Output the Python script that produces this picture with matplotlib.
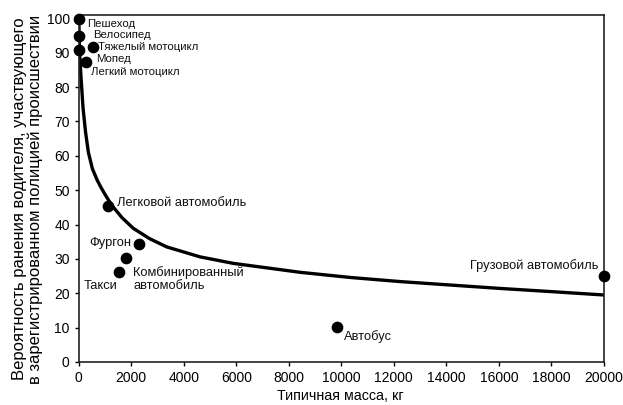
import matplotlib
matplotlib.use("Agg")
import matplotlib.pyplot as plt

plt.rcParams['font.family'] = ['Liberation Sans', 'DejaVu Sans']

# Data points (typical mass in kg, probability of driver injury %)
names = ["Пешеход", "Велосипед", "Тяжелый мотоцикл", "Мопед", "Легкий мотоцикл",
         "Легковой автомобиль", "Фургон", "Комбинированный\nавтомобиль", "Такси",
         "Автобус", "Грузовой автомобиль"]
mass = [20, 20, 540, 20, 280, 1120, 2300, 1810, 1540, 9850, 20000]
prob = [99.8, 94.9, 91.6, 90.8, 87.3, 45.4, 34.3, 30.3, 26.2, 10.2, 25.0]

# Trend curve
curve_x = [10, 30, 60, 100, 165, 260, 370, 520, 700, 850, 1000, 1250, 1650, 2080, 2700,
           3350, 4620, 5890, 7165, 8435, 10340, 12245, 14150, 16060, 17960, 20000]
curve_y = [98, 91, 86.5, 81.5, 74, 67, 61, 56.3, 53.0, 50.8, 48.8, 45.7, 42.0, 38.9, 35.9,
           33.5, 30.6, 28.7, 27.4, 26.1, 24.6, 23.4, 22.4, 21.4, 20.5, 19.5]

xticks = [0, 2000, 4000, 6000, 8000, 10000, 12000, 14000, 16000, 18000, 20000]
yticks = [0, 10, 20, 30, 40, 50, 60, 70, 80, 90, 100]

# label offsets (pixels) and alignment
offsets = [(8, -4.5, 'left'), (14, 1, 'left'), (5, 0.5, 'left'), (17, -8.5, 'left'),
           (5, -9.5, 'left'), (9, 3, 'left'), (-8, 1, 'right'), (7, -21, 'left'),
           (-35, -14, 'left'), (7, -10, 'left'), (-6, 11, 'right')]
sizes = [8.2, 8.2, 8.2, 8.2, 8.2, 9.3, 9.3, 9.3, 9.3, 9.3, 9.3]

fig = plt.figure(figsize=(6.23, 4.05), dpi=100)
ax = fig.add_axes([0.1263, 0.1062, 0.8432, 0.8568])

ax.plot(curve_x, curve_y, color='black', lw=2.4, solid_capstyle='butt',
        solid_joinstyle='round', zorder=2)
ax.scatter(mass, prob, s=55, color='black', zorder=3, clip_on=False)

for n, mx, py, (dx, dy, ha), fs in zip(names, mass, prob, offsets, sizes):
    ax.annotate(n, (mx, py), xytext=(dx, dy), textcoords='offset pixels',
                ha=ha, va='center', fontsize=fs, color='#111111', linespacing=1.05)

ax.set_xlim(0, 20000)
ax.set_ylim(0, 101)
ax.set_xticks(xticks)
ax.set_yticks(yticks)
ax.tick_params(direction='out', length=3, width=1, labelsize=10, pad=3.5, colors='black')
for sp in ax.spines.values():
    sp.set_linewidth(1.2)
    sp.set_color('#222222')

fig.text(340 / 623, 1 - 396 / 405, "Типичная масса, кг", fontsize=10.3,
         ha='center', va='center')
fig.text(27.5 / 623, 1 - 199 / 405,
         "Вероятность ранения водителя, участвующего\nв зарегистрированном полицией происшествии",
         fontsize=12, rotation=90, ha='center', va='center', multialignment='center',
         linespacing=1.0)

fig.savefig("out.png", dpi=100)
